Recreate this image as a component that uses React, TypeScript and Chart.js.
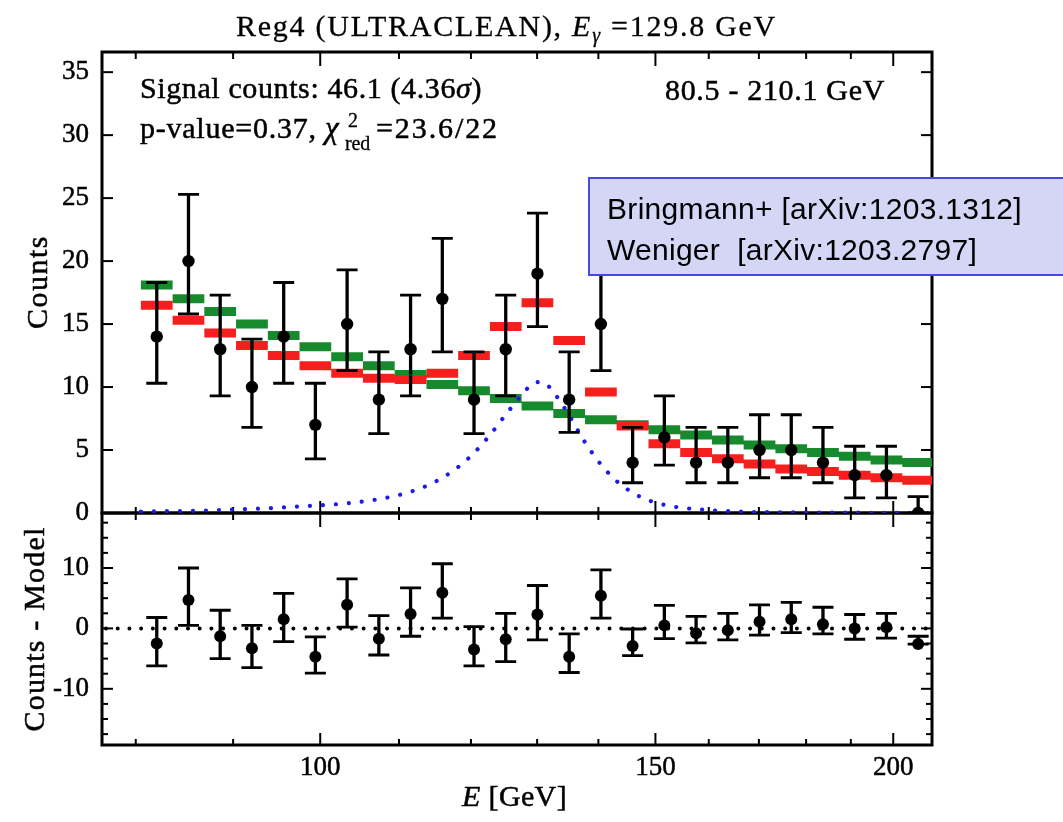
import React, { useEffect, useRef } from "react";
import { Chart, registerables } from "chart.js";

Chart.register(...registerables);

// ---------- data ----------
const BIN_EDGES = [
  80.5, 83.65, 86.92, 90.32, 93.86, 97.53, 101.34, 105.31, 109.43, 113.71,
  118.16, 122.78, 127.58, 132.57, 137.76, 143.15, 148.75, 154.57, 160.62,
  166.9, 173.43, 180.21, 187.26, 194.59, 202.2, 210.11,
];
const COUNTS = [14, 20, 13, 10, 14, 7, 15, 9, 13, 17, 9, 13, 19, 9, 15, 4, 6, 4, 4, 5, 5, 4, 3, 3, 0];
const COUNTS_ERR_HIGH = [18.3, 25.3, 17.3, 13.8, 18.3, 10.3, 19.3, 12.8, 17.3, 21.8, 12.8, 17.3, 23.8, 12.8, 19.3, 6.8, 9.3, 6.8, 6.8, 7.8, 7.8, 6.8, 5.3, 5.3, 1.3];
const COUNTS_ERR_LOW = [10.3, 15.8, 9.3, 6.8, 10.3, 4.3, 11.3, 6.3, 9.3, 12.8, 6.3, 9.3, 14.8, 6.4, 11.3, 2.4, 3.8, 2.4, 2.4, 2.8, 2.8, 2.4, 1.2, 1.2, 0];
const MODEL_RED = [16.5, 15.3, 14.3, 13.3, 12.5, 11.7, 11.1, 10.7, 10.6, 11.1, 12.5, 14.8, 16.7, 13.7, 9.6, 6.9, 5.5, 4.8, 4.3, 3.9, 3.5, 3.3, 3.0, 2.8, 2.6];
const MODEL_GREEN = [18.1, 17.0, 16.0, 15.0, 14.1, 13.2, 12.4, 11.7, 11.0, 10.2, 9.7, 9.1, 8.5, 7.9, 7.4, 7.0, 6.6, 6.2, 5.8, 5.4, 5.1, 4.8, 4.5, 4.2, 4.0];
const SIGNAL_E = [80.5, 82.4, 85.1, 87.9, 90.8, 93.9, 96.9, 100.2, 103.5, 107.0, 110.4, 113.9, 117.2, 120.2, 122.8, 125.3, 127.9, 129.4, 130.4, 131.5, 132.9, 135.2, 137.5, 140.1, 143.2, 147.3, 151.9, 156.9, 162.5, 167.6, 175, 185, 195, 210];
const SIGNAL_COUNTS = [0.12, 0.14, 0.16, 0.22, 0.3, 0.38, 0.49, 0.62, 0.78, 1.07, 1.49, 2.2, 3.26, 4.63, 6.2, 7.9, 9.56, 10.3, 10.4, 10.2, 9.4, 7.7, 5.8, 4.05, 2.5, 1.28, 0.62, 0.33, 0.17, 0.09, 0.05, 0.03, 0.02, 0.01];

const X_RANGE = [76.8, 209.6];
const Y_RANGE = [0, 36.6];
const Y2_RANGE = [-19.3, 19.1];
const X_LABEL_TICKS = [100, 150, 200];
const X_MINOR_TICKS = [80, 90, 110, 120, 130, 140, 160, 170, 180, 190];
const Y_TICKS = [0, 5, 10, 15, 20, 25, 30, 35];
const Y2_TICKS = [-10, 0, 10];
const Y2_MINOR_TICKS = [-17.5, -15, -12.5, -7.5, -5, -2.5, 2.5, 5, 7.5, 12.5, 15, 17.5];

const SERIF = "'Liberation Serif', 'DejaVu Serif', serif";
const SANS = "'Liberation Sans', Arial, sans-serif";
const f = (s: number) => `${s}px ${SERIF}`;
const fi = (s: number) => `italic ${s}px ${SERIF}`;

type Run = { t: string; font: string; dy?: number };

function drawRuns(
  ctx: any,
  runs: Run[],
  x: number,
  y: number,
  target: number | null,
  align: "left" | "right" | "center",
  stroke = 0.5
) {
  ctx.letterSpacing = "0px";
  const ws = runs.map((r) => {
    ctx.font = r.font;
    return ctx.measureText(r.t).width;
  });
  const n = runs.reduce((a, r) => a + [...r.t].length, 0);
  const nat = ws.reduce((a, b) => a + b, 0);
  const ls = target == null ? 0 : (target - nat) / n;
  const total = nat + ls * n;
  let cx = align === "left" ? x : align === "right" ? x - total : x - total / 2;
  ctx.textAlign = "left";
  ctx.strokeStyle = ctx.fillStyle;
  ctx.lineWidth = stroke;
  runs.forEach((r, i) => {
    ctx.font = r.font;
    ctx.letterSpacing = `${ls}px`;
    ctx.fillText(r.t, cx, y + (r.dy || 0));
    if (stroke > 0) ctx.strokeText(r.t, cx, y + (r.dy || 0));
    cx += ws[i] + ls * [...r.t].length;
  });
  ctx.letterSpacing = "0px";
}

const framePlugin = {
  id: "frame",
  beforeDatasetsDraw(chart: any) {
    const { ctx } = chart;
    const x = chart.scales.x;
    const y = chart.scales.y;
    const y2 = chart.scales.y2;
    const L = x.left;
    const R = x.right;
    ctx.save();
    ctx.strokeStyle = "#000";
    ctx.lineWidth = 2;
    const line = (x1: number, y1: number, x2: number, y2_: number) => {
      ctx.beginPath();
      ctx.moveTo(x1, y1);
      ctx.lineTo(x2, y2_);
      ctx.stroke();
    };
    for (const p of [y, y2]) {
      for (const v of X_MINOR_TICKS) {
        const px = x.getPixelForValue(v);
        line(px, p.bottom, px, p.bottom - 6);
        line(px, p.top, px, p.top + 7);
      }
      for (const v of X_LABEL_TICKS) {
        const px = x.getPixelForValue(v);
        line(px, p.bottom, px, p.bottom - 12);
        line(px, p.top, px, p.top + 14);
      }
    }
    for (const v of Y_TICKS) {
      const py = y.getPixelForValue(v);
      line(L, py, L + 11, py);
      line(R, py, R - 11, py);
    }
    for (const v of Y2_TICKS) {
      const py = y2.getPixelForValue(v);
      line(L, py, L + 11, py);
      line(R, py, R - 11, py);
    }
    for (const v of Y2_MINOR_TICKS) {
      const py = y2.getPixelForValue(v);
      line(L, py, L + 6, py);
      line(R, py, R - 6, py);
    }
    ctx.lineWidth = 3;
    ctx.strokeRect(L, y.top, R - L, y.bottom - y.top);
    ctx.strokeRect(L, y2.top, R - L, y2.bottom - y2.top);
    ctx.restore();
  },
};

const errorPlugin = {
  id: "errorbars",
  afterDatasetsDraw(chart: any) {
    const { ctx } = chart;
    const x = chart.scales.x;
    const y = chart.scales.y;
    const y2 = chart.scales.y2;
    const centers = COUNTS.map((_, i) => Math.sqrt(BIN_EDGES[i] * BIN_EDGES[i + 1]));
    const draw = (scale: any, lo: number[], hi: number[]) => {
      ctx.save();
      ctx.beginPath();
      ctx.rect(x.left, scale.top, x.right - x.left, scale.bottom - scale.top);
      ctx.clip();
      ctx.strokeStyle = "#000";
      centers.forEach((c, i) => {
        const px = x.getPixelForValue(c);
        const pl = scale.getPixelForValue(lo[i]);
        const ph = scale.getPixelForValue(hi[i]);
        ctx.lineWidth = 3.3;
        ctx.beginPath();
        ctx.moveTo(px, pl);
        ctx.lineTo(px, ph);
        ctx.stroke();
        ctx.lineWidth = 2.8;
        ctx.beginPath();
        ctx.moveTo(px - 10.5, pl);
        ctx.lineTo(px + 10.5, pl);
        ctx.moveTo(px - 10.5, ph);
        ctx.lineTo(px + 10.5, ph);
        ctx.stroke();
      });
      ctx.restore();
    };
    draw(y, COUNTS_ERR_LOW, COUNTS_ERR_HIGH);
    draw(
      y2,
      COUNTS_ERR_LOW.map((v, i) => v - MODEL_RED[i]),
      COUNTS_ERR_HIGH.map((v, i) => v - MODEL_RED[i])
    );
  },
};

const textPlugin = {
  id: "texts",
  afterDraw(chart: any) {
    const { ctx } = chart;
    ctx.save();
    ctx.fillStyle = "#000";
    ctx.textBaseline = "alphabetic";
    drawRuns(
      ctx,
      [
        { t: "Reg4 (ULTRACLEAN), ", font: f(30) },
        { t: "E", font: fi(30) },
        { t: "γ", font: fi(20), dy: 6 },
        { t: " =129.8 GeV", font: f(30) },
      ],
      236, 36, 541, "left", 0.3
    );
    drawRuns(
      ctx,
      [
        { t: "Signal counts: 46.1 (4.36", font: f(30) },
        { t: "σ", font: fi(30) },
        { t: ")", font: f(30) },
      ],
      140, 98, 342, "left"
    );
    drawRuns(ctx, [{ t: "p-value=0.37, ", font: f(30) }], 140, 138, 185, "left");
    drawRuns(ctx, [{ t: "χ", font: fi(31) }], 325, 138, null, "left");
    drawRuns(ctx, [{ t: "2", font: f(20) }], 348, 127, null, "left", 0.3);
    drawRuns(ctx, [{ t: "red", font: f(20) }], 345, 150, 25, "left", 0.3);
    drawRuns(ctx, [{ t: "=23.6/22", font: f(30) }], 376, 138, 123, "left");
    drawRuns(ctx, [{ t: "80.5 - 210.1 GeV", font: f(30) }], 885, 100, 220, "right");

    drawRuns(ctx, [{ t: "E", font: fi(30) }, { t: " [GeV]", font: f(30) }], 462, 806, 105, "left");

    ctx.save();
    ctx.translate(47, 282);
    ctx.rotate(-Math.PI / 2);
    drawRuns(ctx, [{ t: "Counts", font: f(30) }], 0, 0, 94, "center");
    ctx.restore();
    ctx.save();
    ctx.translate(44, 629);
    ctx.rotate(-Math.PI / 2);
    drawRuns(ctx, [{ t: "Counts - Model", font: f(30) }], 0, 0, 205, "center");
    ctx.restore();

    // annotation box
    ctx.fillStyle = "#d4d6f6";
    ctx.fillRect(589, 178, 480, 97);
    ctx.strokeStyle = "#4848e0";
    ctx.lineWidth = 2;
    ctx.strokeRect(589, 178, 480, 97);
    ctx.fillStyle = "#000";
    drawRuns(ctx, [{ t: "Bringmann+ [arXiv:1203.1312]", font: `30px ${SANS}` }], 607, 219, 415, "left", 0);
    drawRuns(ctx, [{ t: "Weniger  [arXiv:1203.2797]", font: `30px ${SANS}` }], 607, 260, 370, "left", 0);
    ctx.restore();
  },
};

export default function App() {
  const ref = useRef<HTMLCanvasElement | null>(null);

  useEffect(() => {
    const canvas = ref.current;
    if (!canvas) return;
    const centers = COUNTS.map((_, i) => Math.sqrt(BIN_EDGES[i] * BIN_EDGES[i + 1]));
    const steps = (vals: number[]) => {
      const out: any[] = [];
      vals.forEach((v, i) => {
        out.push({ x: BIN_EDGES[i], y: v }, { x: BIN_EDGES[i + 1], y: v }, { x: BIN_EDGES[i + 1], y: null });
      });
      return out;
    };
    const residuals = COUNTS.map((c, i) => ({ x: centers[i], y: c - MODEL_RED[i] }));

    const tickFont = { family: SERIF, size: 27 };
    const tickCommon = {
      font: tickFont,
      color: "#000",
      textStrokeColor: "#000",
      textStrokeWidth: 0.5,
    };

    const chart = new Chart(canvas, {
      type: "scatter",
      data: {
        datasets: [
          {
            label: "Counts",
            data: COUNTS.map((c, i) => ({ x: centers[i], y: c })),
            yAxisID: "y",
            backgroundColor: "#000",
            borderColor: "#000",
            pointRadius: 6.2,
            pointBorderWidth: 0,
            showLine: false,
            order: 0,
          },
          {
            label: "Residuals",
            data: residuals,
            yAxisID: "y2",
            backgroundColor: "#000",
            borderColor: "#000",
            pointRadius: 6,
            pointBorderWidth: 0,
            showLine: false,
            order: 0,
          },
          {
            label: "Signal",
            data: SIGNAL_E.map((e, i) => ({ x: e, y: SIGNAL_COUNTS[i] })),
            yAxisID: "y",
            showLine: true,
            pointRadius: 0,
            borderColor: "#1c1ce6",
            borderWidth: 4.2,
            borderDash: [0.01, 13],
            borderCapStyle: "round",
            cubicInterpolationMode: "monotone",
            order: 2,
          },
          {
            label: "Model (red)",
            data: steps(MODEL_RED),
            yAxisID: "y",
            showLine: true,
            spanGaps: false,
            pointRadius: 0,
            borderColor: "#f71e1e",
            borderWidth: 9,
            borderCapStyle: "butt",
            order: 3,
          },
          {
            label: "Model (green)",
            data: steps(MODEL_GREEN),
            yAxisID: "y",
            showLine: true,
            spanGaps: false,
            pointRadius: 0,
            borderColor: "#178a2d",
            borderWidth: 9,
            borderCapStyle: "butt",
            order: 4,
          },
          {
            label: "Zero",
            data: [
              { x: X_RANGE[0], y: 0 },
              { x: X_RANGE[1], y: 0 },
            ],
            yAxisID: "y2",
            showLine: true,
            pointRadius: 0,
            borderColor: "#000",
            borderWidth: 4,
            borderDash: [0.01, 11.7],
            borderDashOffset: -4,
            borderCapStyle: "round",
            order: 5,
          },
        ] as any,
      },
      options: {
        animation: false,
        responsive: false,
        devicePixelRatio: 1,
        events: [],
        layout: { padding: { top: 52, right: 131, left: 0, bottom: 0 } },
        plugins: { legend: { display: false }, tooltip: { enabled: false }, title: { display: false } },
        scales: {
          x: {
            type: "logarithmic",
            position: "bottom",
            min: X_RANGE[0],
            max: X_RANGE[1],
            grid: { display: false, drawTicks: false },
            border: { display: false },
            ticks: {
              ...tickCommon,
              padding: 7,
              maxRotation: 0,
              autoSkip: false,
              callback: (v: any) => String(v),
            },
            afterBuildTicks: (s: any) => {
              s.ticks = X_LABEL_TICKS.map((v) => ({ value: v }));
            },
            afterFit: (s: any) => {
              s.height = 77;
            },
          },
          y: {
            type: "linear",
            position: "left",
            stack: "panels",
            stackWeight: 461,
            weight: 1,
            min: Y_RANGE[0],
            max: Y_RANGE[1],
            grid: { display: false, drawTicks: false },
            border: { display: false },
            ticks: { ...tickCommon, padding: 13, callback: (v: any) => String(v) },
            afterBuildTicks: (s: any) => {
              s.ticks = Y_TICKS.map((v) => ({ value: v }));
            },
            afterFit: (s: any) => {
              s.width = 102;
            },
          },
          y2: {
            type: "linear",
            position: "left",
            stack: "panels",
            stackWeight: 232,
            weight: 0,
            min: Y2_RANGE[0],
            max: Y2_RANGE[1],
            grid: { display: false, drawTicks: false },
            border: { display: false },
            ticks: { ...tickCommon, padding: 13, callback: (v: any) => String(v) },
            afterBuildTicks: (s: any) => {
              s.ticks = Y2_TICKS.map((v) => ({ value: v }));
            },
            afterFit: (s: any) => {
              s.width = 102;
            },
          },
        } as any,
      },
      plugins: [framePlugin, errorPlugin, textPlugin],
    } as any);
    return () => chart.destroy();
  }, []);

  return (
    <div style={{ position: "absolute", left: 0, top: 0, width: 1063, height: 822, background: "#fff" }}>
      <canvas ref={ref} width={1063} height={822} style={{ display: "block", width: 1063, height: 822 }} />
    </div>
  );
}
